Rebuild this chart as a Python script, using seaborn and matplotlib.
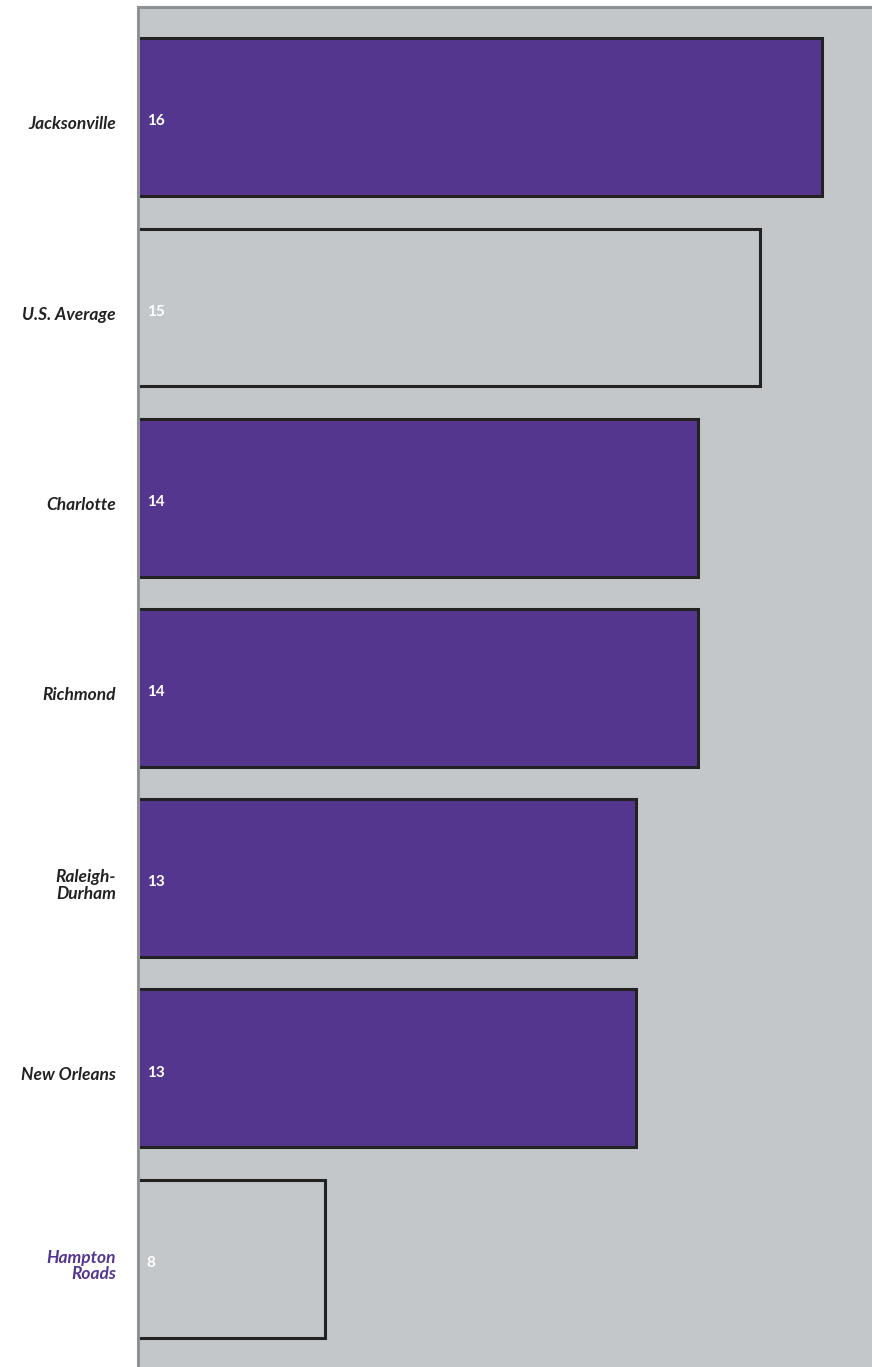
import matplotlib
matplotlib.use('Agg')
import matplotlib.pyplot as plt
import matplotlib.transforms as mtransforms
import seaborn as sns

# data
cities = ['Jacksonville', 'U.S. Average', 'Charlotte', 'Richmond',
          'Raleigh-\nDurham', 'New Orleans', 'Hampton\nRoads']
values = [16, 15, 14, 14, 13, 13, 8]
highlight = [False, True, False, False, False, False, True]

purple = '#55368f'
bg_gray = '#c4c7ca'
spine_gray = '#8e9195'
bar_colors = [bg_gray if h else purple for h in highlight]

sns.set_style('white')
plt.rcParams['font.family'] = ['Lato', 'DejaVu Sans']

fig = plt.figure(figsize=(8.72, 13.67), dpi=100)
ax = fig.add_axes([138 / 872, 0, 1 - 138 / 872, 1360 / 1367])
ax.set_facecolor(bg_gray)

sns.barplot(x=values, y=cities, hue=cities, palette=bar_colors, legend=False,
            orient='h', width=0.83, saturation=1, edgecolor='#222222',
            linewidth=2.2, ax=ax)

ax.set_xlim(5, 16.8)
ax.set_ylim(6.57, -0.58)
ax.set_xticks([])
ax.set_xlabel('')
ax.set_ylabel('')

for s in ['right', 'bottom']:
    ax.spines[s].set_visible(False)
for s in ['left', 'top']:
    ax.spines[s].set_color(spine_gray)
    ax.spines[s].set_linewidth(2.2)

# city names sit a little below the bar centres
shift = mtransforms.ScaledTranslation(0, -4 / 72, fig.dpi_scale_trans)
ax.tick_params(axis='y', length=0, pad=16)
for lbl in ax.get_yticklabels():
    lbl.set_fontstyle('italic')
    lbl.set_fontweight('bold')
    lbl.set_fontsize(12.5)
    lbl.set_linespacing(1.05)
    lbl.set_multialignment('right')
    lbl.set_color('#222222')
    lbl.set_transform(lbl.get_transform() + shift)
ax.get_yticklabels()[-1].set_color(purple)

# value labels at the left inside each bar
trans = mtransforms.blended_transform_factory(ax.transAxes, ax.transData)
trans = trans + mtransforms.ScaledTranslation(0, -3 / 72, fig.dpi_scale_trans)
for i, v in enumerate(values):
    ax.text(0.012, i, str(v), transform=trans, ha='left', va='center',
            color='white', fontsize=11, fontweight='bold')

fig.savefig('out.png', dpi=100)
